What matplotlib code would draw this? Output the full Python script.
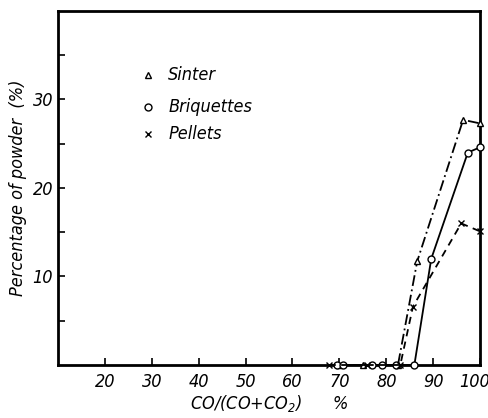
import matplotlib.pyplot as plt
from matplotlib.transforms import ScaledTranslation

# =========================================================
# DONNEES
# =========================================================

sinter_x = [70, 75, 82.5, 86.6, 96.4, 100]
sinter_y = [0, 0, 0, 11.7, 27.7, 27.3]

briq_x = [69.5, 70.7, 77, 79, 82, 86, 89.6, 97.4, 100]
briq_y = [0, 0, 0, 0, 0, 0, 12.0, 24.0, 24.6]

pellet_x = [67.7, 76, 83, 85.7, 96, 100]
pellet_y = [0, 0, 0, 6.6, 16.0, 15.1]

x_ticks = [20, 30, 40, 50, 60, 70, 80, 90, 100]
y_ticks = [10, 20, 30]
y_minor = [5, 15, 25, 35]

plt.rcParams['font.family'] = ['DejaVu Sans']
plt.rcParams['font.style'] = 'italic'
plt.rcParams['font.stretch'] = 'condensed'
plt.rcParams['mathtext.default'] = 'regular'

fig = plt.figure(figsize=(4.89, 4.18), dpi=100)
ax = fig.add_axes([0.1186, 0.1268, 0.8630, 0.8469])

ax.plot(sinter_x, sinter_y, color="black", lw=1.3, ls=(0, (6, 2, 1, 2)),
        marker="^", ms=5, mfc="white", mec="black", mew=1.0, clip_on=False, zorder=3)
ax.plot(briq_x, briq_y, color="black", lw=1.3, ls="-",
        marker="o", ms=5, mfc="white", mec="black", mew=1.0, clip_on=False, zorder=3)
ax.plot(pellet_x, pellet_y, color="black", lw=1.3, ls=(0, (4, 3)),
        marker="x", ms=5, mec="black", mew=1.0, clip_on=False, zorder=3)

ax.set_xlim(10, 100)
ax.set_ylim(0, 40)

ax.set_xticks(x_ticks)
ax.set_xticklabels([str(v) for v in x_ticks], fontsize=13)
ax.set_yticks(y_ticks)
ax.set_yticklabels([str(v) for v in y_ticks], fontsize=13)
ax.set_yticks(y_minor, minor=True)
ax.tick_params(axis="both", which="both", direction="in", length=5, width=1.2)
ax.tick_params(axis="x", pad=6)

# le "100" est colle au bord droit
last = ax.get_xticklabels()[-1]
last.set_ha("right")
last.set_transform(last.get_transform() + ScaledTranslation(7 / 72, 0, fig.dpi_scale_trans))

for s in ax.spines.values():
    s.set_linewidth(2)

ax.set_ylabel("Percentage of powder  (%)", fontsize=13, labelpad=4)
ax.set_xlabel("CO/(CO+CO$_2$)      %", fontsize=13, labelpad=1)

# legende manuelle
leg = [("^", "Sinter", 32.8), ("o", "Briquettes", 29.2), ("x", "Pellets", 26.1)]
for m, lab, yy in leg:
    ax.plot([29.2], [yy], marker=m, ms=5, mfc="white", mec="black", mew=1.0,
            color="black", ls="none")
    ax.text(33.5, yy, lab, fontsize=13, va="center")

fig.savefig("out.png", dpi=100)
